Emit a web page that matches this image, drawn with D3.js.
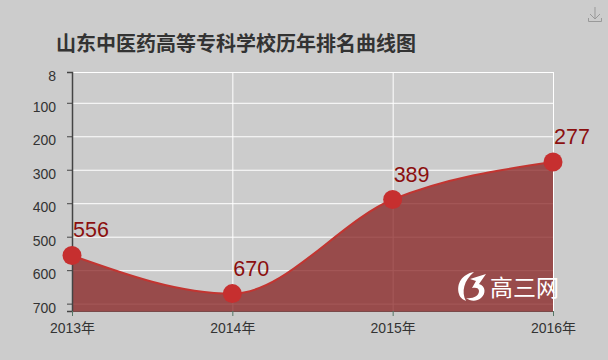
<!DOCTYPE html>
<html>

<head>
    <meta charset="UTF-8">
    <title>rank</title>
    <script src="https://d3js.org/d3.v7.min.js"></script>
    <style>
        * {
            padding: 0;
            margin: 0;
        }

        body {
            background-color: #cccccc;
            overflow: hidden;
        }

        text {
            font-family: "Liberation Sans", "Noto Sans CJK SC", sans-serif;
        }
    </style>
</head>

<body>
    <svg id="chart" width="608" height="360"></svg>
    <script>
        var titleText = "山东中医药高等专科学校历年排名曲线图";
        var years = ["2013年", "2014年", "2015年", "2016年"];
        var ranks = [556, 670, 389, 277];
        var rankTicks = [8, 100, 200, 300, 400, 500, 600, 700];
        var rankBottom = 722;

        var svg = d3.select("#chart");

        var xScale = d3.scalePoint().domain(years).range([72, 553]);
        var yScale = d3.scaleLinear().domain([8, rankBottom]).range([72, 311]);

        // grid lines first, the area sits on top of them
        var gridY = d3.axisLeft(yScale).tickValues(rankTicks).tickSize(-481).tickFormat("");
        svg.append("g")
            .attr("transform", "translate(72,0)")
            .call(gridY)
            .call(g => g.select(".domain").remove())
            .selectAll("line").attr("stroke", "#ffffff").attr("stroke-width", 1);

        var gridX = d3.axisBottom(xScale).tickSize(-239).tickFormat("");
        svg.append("g")
            .attr("transform", "translate(0,311)")
            .call(gridX)
            .call(g => g.select(".domain").remove())
            .selectAll("line").attr("stroke", "#ffffff").attr("stroke-width", 1);

        var points = years.map((d, i) => ({ year: d, rank: ranks[i] }));

        var area = d3.area()
            .x(d => xScale(d.year))
            .y0(yScale(rankBottom))
            .y1(d => yScale(d.rank))
            .curve(d3.curveMonotoneX);

        var line = d3.line()
            .x(d => xScale(d.year))
            .y(d => yScale(d.rank))
            .curve(d3.curveMonotoneX);

        svg.append("path")
            .datum(points)
            .attr("d", area)
            .attr("fill", "#872020")
            .attr("fill-opacity", 0.75);

        svg.append("path")
            .datum(points)
            .attr("d", line)
            .attr("fill", "none")
            .attr("stroke", "#c23531")
            .attr("stroke-width", 2);

        // axes
        var yAxis = d3.axisLeft(yScale).tickValues(rankTicks).tickSize(5).tickPadding(11);
        var yG = svg.append("g").attr("transform", "translate(72,0)").call(yAxis);
        yG.select(".domain").attr("stroke", "#444444").attr("stroke-width", 1.5);
        yG.selectAll("line").attr("stroke", "#444444");
        yG.selectAll("text").attr("fill", "#333333").attr("dy", "0.6em").style("font-size", "14px");

        var xAxis = d3.axisBottom(xScale).tickSize(5).tickPadding(7);
        var xG = svg.append("g").attr("transform", "translate(0,311)").call(xAxis);
        xG.select(".domain").attr("stroke", "#7a4a4a").attr("stroke-width", 1);
        xG.selectAll("line").attr("stroke", "#557766");
        xG.selectAll("text").attr("fill", "#333333").style("font-size", "14px");

        // points and value labels
        svg.selectAll("circle")
            .data(points)
            .enter()
            .append("circle")
            .attr("cx", d => xScale(d.year))
            .attr("cy", d => yScale(d.rank))
            .attr("r", 9.5)
            .attr("fill", "#c62f2f");

        svg.selectAll(".value")
            .data(points)
            .enter()
            .append("text")
            .attr("class", "value")
            .attr("x", d => xScale(d.year) + 1)
            .attr("y", d => yScale(d.rank) - 18)
            .attr("fill", "#8b0f0f")
            .style("font-size", "21.5px")
            .text(d => d.rank);

        // title
        svg.append("text")
            .attr("x", 56)
            .attr("y", 51)
            .attr("fill", "#333333")
            .style("font-family", "'Noto Sans CJK SC'")
            .style("font-weight", "bold")
            .style("font-size", "20px")
            .text(titleText);

        // download icon
        var icon = svg.append("g")
            .attr("transform", "translate(588,7)")
            .attr("fill", "none")
            .attr("stroke", "#999999")
            .attr("stroke-width", 1);
        icon.append("path").attr("d", "M7 0V12M2 7L7 12L12 7");
        icon.append("path").attr("d", "M0.5 11V14.5H13.5V11");

        // watermark
        var logo = svg.append("g").attr("fill", "#ffffff");
        logo.append("path")
            .attr("d", "M474 272C462 274 456 284 459 294C460 298 464 300 466 301C461 292 464 280 474 272Z");
        logo.append("path")
            .attr("d", "M470 279L486 274L479 284C486 286 486 294 481 298C476 302 470 301 466 298C473 299 479 296 479 291C479 288 476 287 472 288L476 281Z");
        logo.append("text")
            .attr("x", 490)
            .attr("y", 296)
            .style("font-family", "'Noto Sans CJK SC'")
            .style("font-size", "23px")
            .text("高三网");
    </script>
</body>

</html>
